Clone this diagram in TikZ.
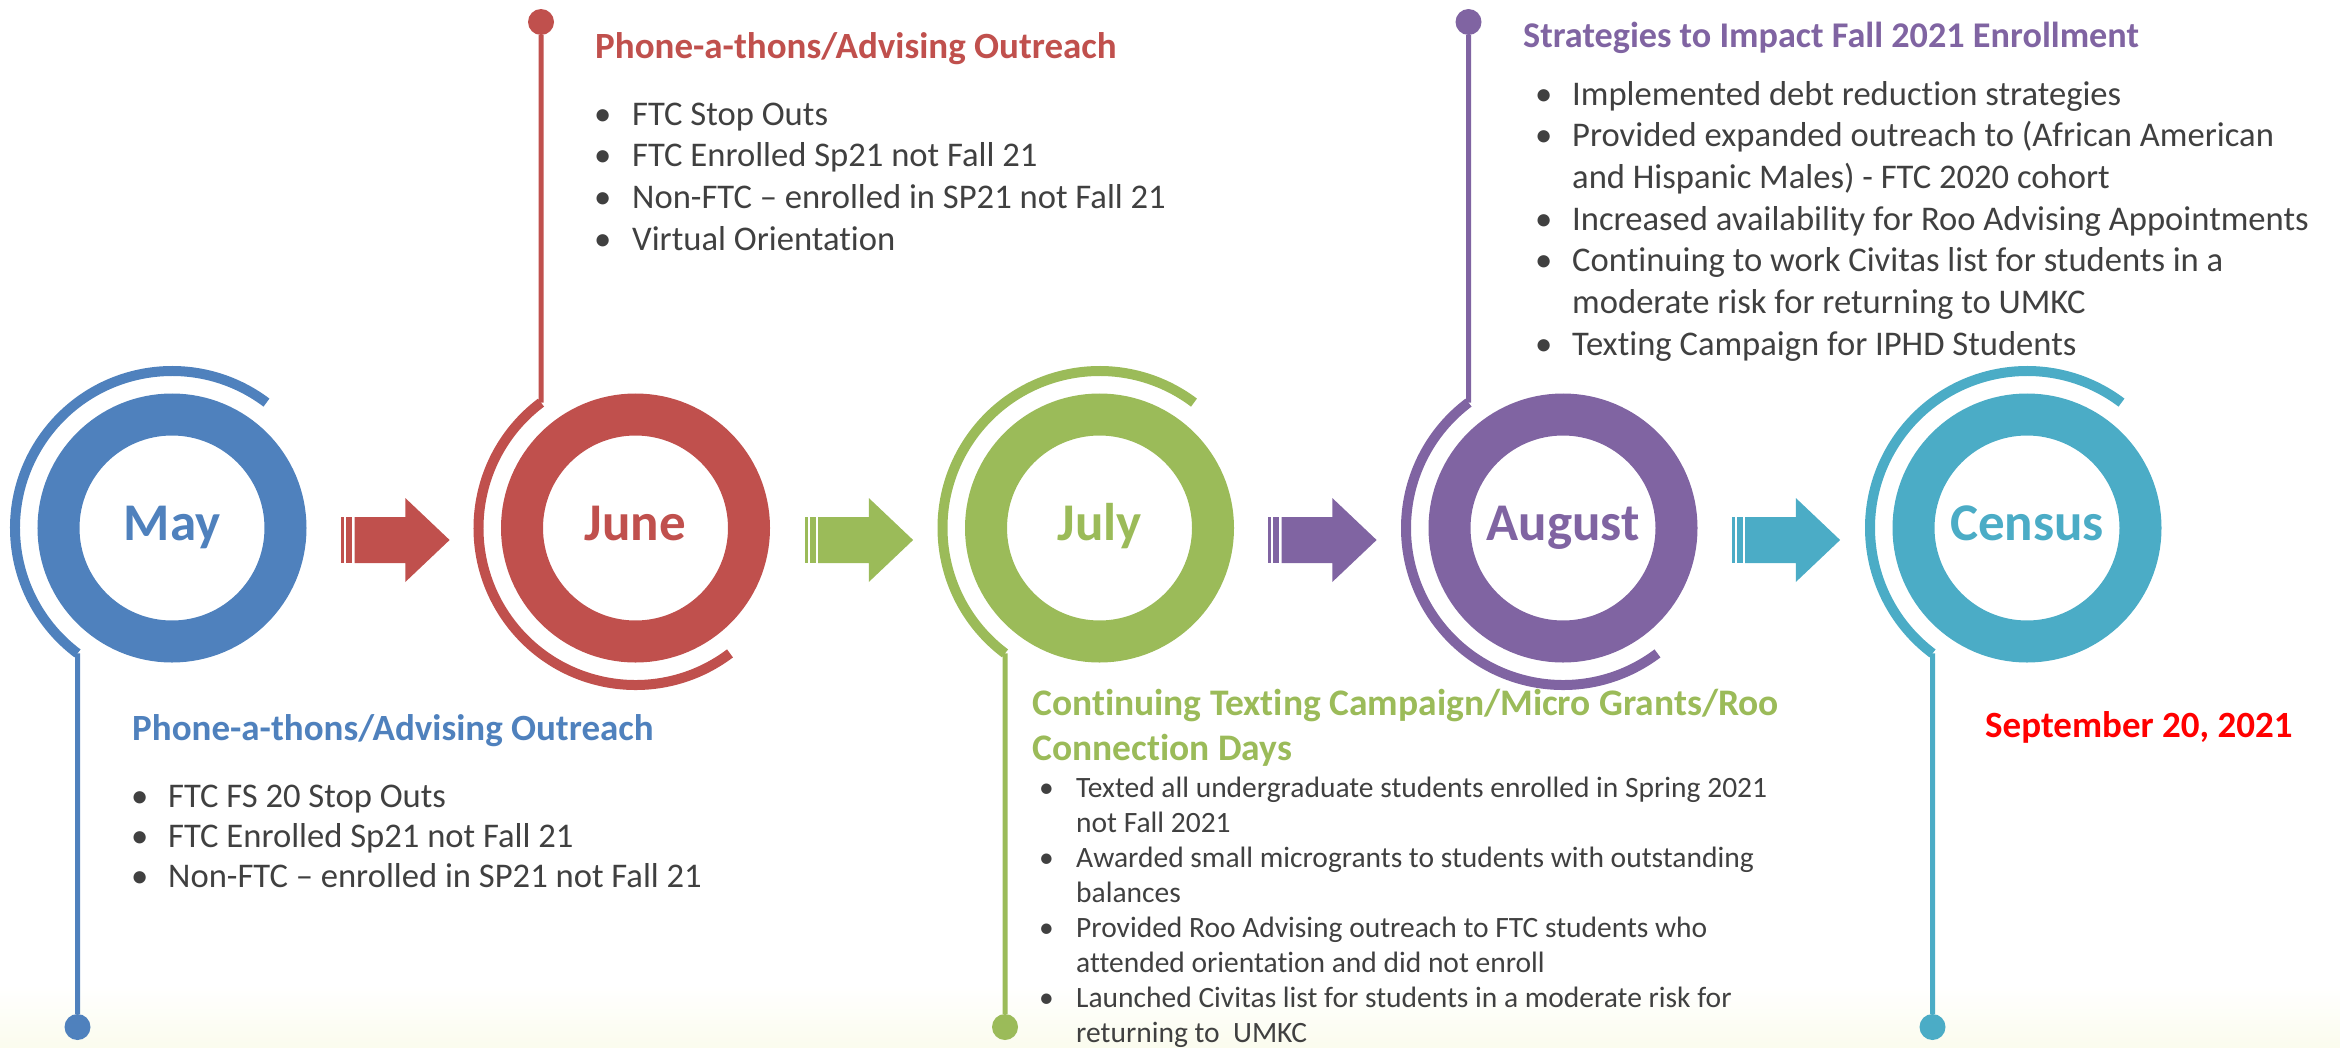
\documentclass[tikz,border=0pt]{standalone}
\usepackage{fontspec}
\setmainfont{Carlito}[Ligatures=NoCommon]

\definecolor{mayblue}{HTML}{4F81BD}
\definecolor{junered}{HTML}{C0504D}
\definecolor{julygreen}{HTML}{9BBB59}
\definecolor{augpurple}{HTML}{8064A2}
\definecolor{censusteal}{HTML}{4BACC6}
\definecolor{bodygray}{HTML}{404040}
\definecolor{datered}{HTML}{FF0000}
\definecolor{floor}{HTML}{FBFCEE}

\begin{document}
\begin{tikzpicture}[x=1pt,y=1pt,
  ring/.style={circle, draw, line width=42pt, minimum size=227pt, inner sep=0pt},
  month/.style={anchor=base, inner sep=0pt, font=\fontsize{53}{62}\selectfont\bfseries},
  pin/.style={circle, minimum size=26pt, inner sep=0pt},
  swirl/.style={line width=10pt},
  stem/.style={line width=5pt},
  heading/.style={anchor=base west, inner sep=0pt, font=\fontsize{37}{44}\selectfont\bfseries},
  bullets/.style={anchor=base west, inner sep=0pt, text=bodygray, font=\fontsize{34.6}{41.7}\selectfont}]

\newcommand\Y{-528}
\newcommand\R{157}
\newcommand\blockarrow[2]{%
  \fill[#2] (#1,-517) rectangle ++(3.3,-46);
  \fill[#2] (#1+5.3,-517) rectangle ++(5.7,-46);
  \fill[#2] (#1+13.6,-517) -- (#1+64.3,-517) -- (#1+64.3,-498) -- (#1+108.6,-540)
    -- (#1+64.3,-582) -- (#1+64.3,-563) -- (#1+13.6,-563) -- cycle;
}

  \useasboundingbox (0,0) rectangle (2340,-1047);

  %% faint floor
  \shade[top color=white, bottom color=floor] (0,-985) rectangle (2340,-1047);

  %% rings
  \node[ring, draw=mayblue] (may) at (172,\Y) {};
  \node[ring, draw=junered] (june) at (635.5,\Y) {};
  \node[ring, draw=julygreen] (july) at (1099.5,\Y) {};
  \node[ring, draw=augpurple] (aug) at (1563,\Y) {};
  \node[ring, draw=censusteal] (census) at (2027,\Y) {};

  %% month names
  \node[month, text=mayblue] (maylabel) at (172,-540) {May};
  \node[month, text=junered] (junelabel) at (635.5,-540) {June};
  \node[month, text=julygreen] (julylabel) at (1099.5,-540) {July};
  \node[month, text=augpurple] (auglabel) at (1563,-540) {August};
  \node[month, text=censusteal] (censuslabel) at (2027,-540) {Census};

  %% pins
  \node[pin, fill=mayblue] (maypin) at (77.5,-1027) {};
  \node[pin, fill=junered] (junepin) at (541,-22) {};
  \node[pin, fill=julygreen] (julypin) at (1005,-1027) {};
  \node[pin, fill=augpurple] (augpin) at (1468.5,-22) {};
  \node[pin, fill=censusteal] (censuspin) at (1932.5,-1027) {};

  %% swirls going down
  \draw[swirl, mayblue] ([shift={(53:\R)}]may.center)
    arc[start angle=53, end angle=233, radius=\R] coordinate (maybend);
  \draw[stem, mayblue] (maybend) -- (maypin);
  \draw[swirl, julygreen] ([shift={(53:\R)}]july.center)
    arc[start angle=53, end angle=233, radius=\R] coordinate (julybend);
  \draw[stem, julygreen] (julybend) -- (julypin);
  \draw[swirl, censusteal] ([shift={(53:\R)}]census.center)
    arc[start angle=53, end angle=233, radius=\R] coordinate (censusbend);
  \draw[stem, censusteal] (censusbend) -- (censuspin);

  %% swirls going up
  \coordinate (junebend) at ([shift={(127:\R)}]june.center);
  \draw[stem, junered] (junepin) -- (junebend);
  \draw[swirl, junered] (junebend) arc[start angle=127, end angle=307, radius=\R];
  \coordinate (augbend) at ([shift={(127:\R)}]aug.center);
  \draw[stem, augpurple] (augpin) -- (augbend);
  \draw[swirl, augpurple] (augbend) arc[start angle=127, end angle=307, radius=\R];

  %% block arrows
  \blockarrow{341}{junered}
  \blockarrow{804.5}{julygreen}
  \blockarrow{1268}{augpurple}
  \blockarrow{1731.5}{censusteal}

  %% May notes
  \node[heading, text=mayblue] (maytitle) at (132,-740) {Phone-a-thons/Advising Outreach};
  \node[bullets, font=\fontsize{34.6}{40}\selectfont] (maynotes) at (131,-807)
  {\begin{tabular}[t]{@{}p{37pt}@{}l@{}}
    \textbullet & FTC FS 20 Stop Outs\\
    \textbullet & FTC Enrolled Sp21 not Fall 21\\
    \textbullet & Non-FTC – enrolled in SP21 not Fall 21
  \end{tabular}};

  %% June notes
  \node[heading, text=junered] (junetitle) at (595,-58) {Phone-a-thons/Advising Outreach};
  \node[bullets] (junenotes) at (594,-125)
  {\begin{tabular}[t]{@{}p{38pt}@{}l@{}}
    \textbullet & FTC Stop Outs\\
    \textbullet & FTC Enrolled Sp21 not Fall 21\\
    \textbullet & Non-FTC – enrolled in SP21 not Fall 21\\
    \textbullet & Virtual Orientation
  \end{tabular}};

  %% July notes
  \node[heading, text=julygreen, font=\fontsize{37.5}{45}\selectfont\bfseries] (julytitle) at (1032,-715)
  {\begin{tabular}[t]{@{}l@{}}
    Continuing Texting Campaign/Micro Grants/Roo\\
    Connection Days
  \end{tabular}};
  \node[bullets, font=\fontsize{29.5}{35}\selectfont] (julynotes) at (1039,-797)
  {\begin{tabular}[t]{@{}p{37pt}@{}l@{}}
    \textbullet & Texted all undergraduate students enrolled in Spring 2021\\
                & not Fall 2021\\
    \textbullet & Awarded small microgrants to students with outstanding\\
                & balances\\
    \textbullet & Provided Roo Advising outreach to FTC students who\\
                & attended orientation and did not enroll\\
    \textbullet & Launched Civitas list for students in a moderate risk for\\
                & returning to\ \ UMKC
  \end{tabular}};

  %% August notes
  \node[heading, text=augpurple, font=\fontsize{36.2}{44}\selectfont\bfseries] (augtitle) at (1523,-47) {Strategies to Impact Fall 2021 Enrollment};
  \node[bullets] (augnotes) at (1535,-105)
  {\begin{tabular}[t]{@{}p{37pt}@{}l@{}}
    \textbullet & Implemented debt reduction strategies\\
    \textbullet & Provided expanded outreach to (African American\\
                & and Hispanic Males) - FTC 2020 cohort\\
    \textbullet & Increased availability for Roo Advising Appointments\\
    \textbullet & Continuing to work Civitas list for students in a\\
                & moderate risk for returning to UMKC\\
    \textbullet & Texting Campaign for IPHD Students
  \end{tabular}};

  %% census date
  \node[heading, text=datered, font=\fontsize{37}{44}\selectfont\bfseries] (censusdate) at (1985,-737) {September 20, 2021};

\end{tikzpicture}
\end{document}
